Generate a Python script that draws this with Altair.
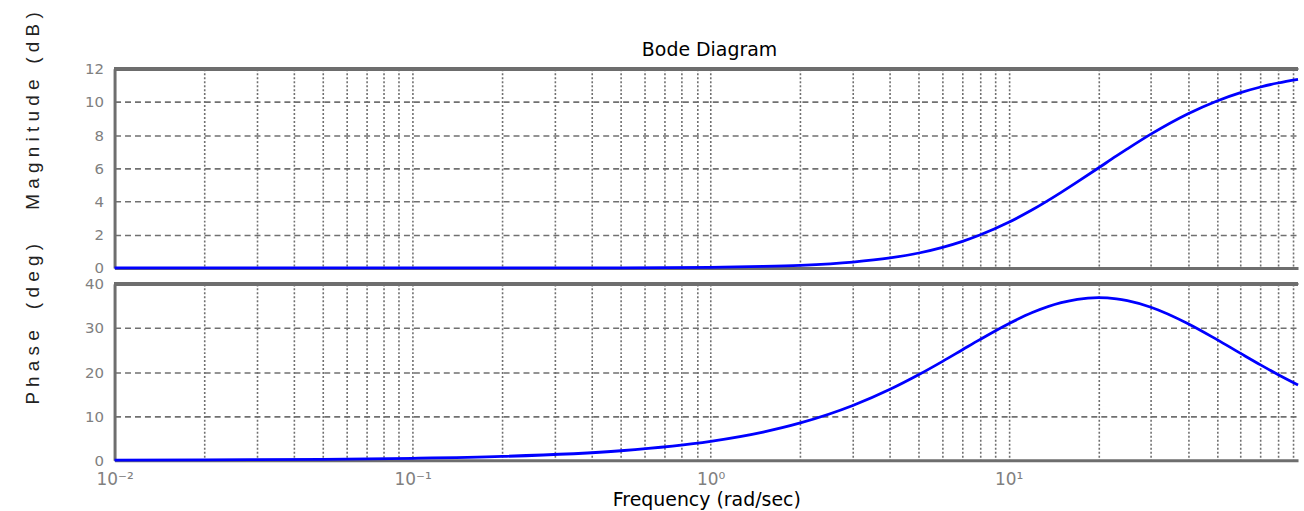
import altair as alt
import pandas as pd

# Frequency samples (rad/sec) and values
freq = [0.01, 0.02, 0.05, 0.1, 0.2, 0.5, 1, 1.5, 2, 3, 4, 5, 6, 7, 8, 10, 12, 15, 17,
        20, 23, 25, 30, 40, 50, 60, 70, 80, 93.5]
magnitude_db = [0, 0, 0, 0, 0, 0.01, 0.04, 0.09, 0.16, 0.35, 0.60, 0.90, 1.24, 1.60,
                1.98, 2.75, 3.50, 4.55, 5.18, 6.02, 6.75, 7.17, 8.06, 9.29, 10.06,
                10.56, 10.90, 11.14, 11.36]
phase_deg = [0.04, 0.09, 0.21, 0.43, 0.86, 2.15, 4.28, 6.38, 8.45, 12.41, 16.09, 19.44,
             22.43, 25.07, 27.35, 30.96, 33.50, 35.75, 36.51, 36.87, 36.60, 36.19,
             34.70, 30.96, 27.35, 24.23, 21.62, 19.44, 17.06]

x_domain = [0.01, 93.5]
x_grid_values = [0.01, 0.02, 0.03, 0.04, 0.05, 0.06, 0.07, 0.08, 0.09,
                 0.1, 0.2, 0.3, 0.4, 0.5, 0.6, 0.7, 0.8, 0.9,
                 1, 2, 3, 4, 5, 6, 7, 8, 9,
                 10, 20, 30, 40, 50, 60, 70, 80, 90]
x_tick_labels = {0.01: "10⁻²", 0.1: "10⁻¹", 1: "10⁰", 10: "10¹"}

mag_ticks = [0, 2, 4, 6, 8, 10, 12]
mag_domain = [0, 12]
phase_ticks = [0, 10, 20, 30, 40]
phase_domain = [0, 40]

title_text = "Bode Diagram"
x_title = "Frequency (rad/sec)"
mag_title = "M a g n i t u d e\u00a0\u00a0\u00a0( d B )"
phase_title = "P h a s e\u00a0\u00a0\u00a0\u00a0( d e g )"

df = pd.DataFrame({"freq": freq, "mag": magnitude_db, "phase": phase_deg})

label_expr = " : ".join(
    f"datum.value == {k} ? '{v}'" for k, v in x_tick_labels.items()
) + " : ''"

FRAME = "#6e6e6e"
GRID = "#707070"
LABEL = "#808080"
FONT = "DejaVu Sans"

xscale = alt.Scale(type="log", domain=x_domain, nice=False)

common_x_axis = dict(
    values=x_grid_values, grid=True, gridDash=[2, 2], gridColor=GRID, gridWidth=1.6,
    gridOpacity=1, ticks=False, domainColor=FRAME, domainWidth=3,
)

x_axis_top = alt.Axis(labels=False, title=None, **common_x_axis)
x_axis_bottom = alt.Axis(
    labelExpr=label_expr, labelFont=FONT, labelFontSize=17, labelColor=LABEL,
    labelPadding=11, labelFlush=False, labelOverlap=False,
    title=x_title, titleFont=FONT, titleFontSize=19, titleFontWeight="normal",
    titleColor="black", titlePadding=3, **common_x_axis,
)


def y_axis(values, title, title_y):
    return alt.Axis(
        values=values, grid=True, gridDash=[6, 4], gridColor=GRID, gridWidth=1.6,
        gridOpacity=1, ticks=False, domainColor=FRAME, domainWidth=3,
        labelFont=FONT, labelFontSize=15, labelColor=LABEL, labelPadding=11,
        title=title, titleFont="Liberation Sans", titleFontSize=19,
        titleFontWeight="normal", titleColor="#222222", titlePadding=42,
        titleY=title_y,
    )


def panel(field, ticks, domain, title, title_y, height, x_axis):
    yscale = alt.Scale(domain=domain, nice=False, zero=False)
    yax = y_axis(ticks, title, title_y)
    line = alt.Chart(df).mark_line(color="#0000ff", strokeWidth=2.8,
                                   interpolate="monotone").encode(
        x=alt.X("freq:Q", scale=xscale, axis=x_axis),
        y=alt.Y(f"{field}:Q", scale=yscale, axis=yax),
    )
    rule = alt.Chart(df).mark_rule(color=FRAME, strokeWidth=3).encode(
        y=alt.YDatum(domain[1], scale=yscale, axis=yax),
    )
    return alt.layer(line, rule).properties(width=1188, height=height)


top = panel("mag", mag_ticks, mag_domain, mag_title, 42, 200, x_axis_top)
bottom = panel("phase", phase_ticks, phase_domain, phase_title, 40, 177, x_axis_bottom)

chart = alt.vconcat(top, bottom, spacing=16, bounds="flush").properties(
    title=alt.TitleParams(title_text, font=FONT, fontSize=19, fontWeight="normal",
                          color="black", offset=-49, anchor="middle", dx=46),
    padding={"left": 23, "top": 10, "right": 0, "bottom": 0},
    background="white",
).configure_view(strokeWidth=0)

chart.save("out.html", embed_options={"renderer": "svg", "actions": False})
